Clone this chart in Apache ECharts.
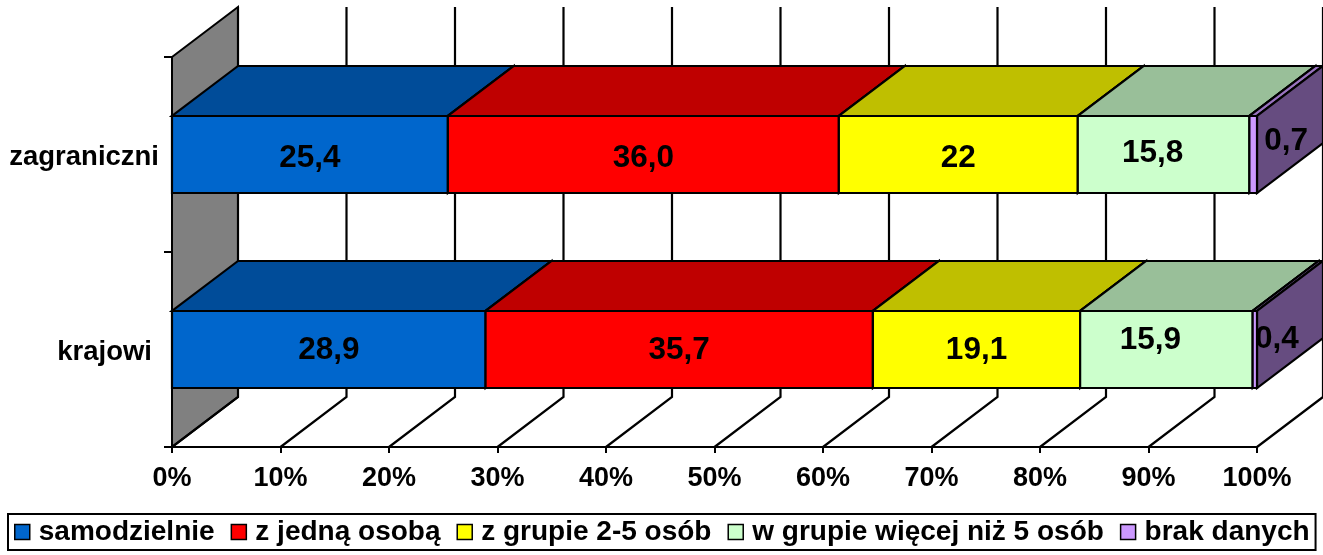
<!DOCTYPE html>
<html>
<head>
<meta charset="utf-8">
<title>samodzielnie / z jedną osobą / w grupie</title>
<script src="https://cdn.jsdelivr.net/npm/echarts@6/dist/echarts.min.js"></script>
<style>
html, body { margin: 0; padding: 0; background: #fff; }
#chart1 { width: 1323px; height: 555px; }
</style>
</head>
<body>
<div id="chart1"></div>
<script>
// dane (kategorie od dołu do góry)
const categories = ['krajowi', 'zagraniczni'];
const seriesNames = ['samodzielnie', 'z jedną osobą', 'z grupie 2-5 osób', 'w grupie więcej niż 5 osób', 'brak danych'];
const samodzielnie = [28.9, 25.4];
const zJednaOsoba = [35.7, 36.0];
const zGrupie25 = [19.1, 22];
const wGrupieWiecej = [15.9, 15.8];
const brakDanych = [0.4, 0.7];
const labelTexts = [['28,9', '25,4'], ['35,7', '36,0'], ['19,1', '22'], ['15,9', '15,8'], ['0,4', '0,7']];
const xTicks = [0, 10, 20, 30, 40, 50, 60, 70, 80, 90, 100];

// wygląd
const FONT = '"Liberation Sans", Arial, sans-serif';
const frontColors = ['#0066CC', '#FF0000', '#FFFF00', '#CCFFCC', '#CC99FF'];
const topColors = ['#004C99', '#BF0000', '#BFBF00', '#99BF99', '#9973BF'];
const sideColors = ['#003366', '#800000', '#808000', '#668066', '#664C80'];
const DX = 66;   // głębokość 3D w poziomie
const DY = -50;  // głębokość 3D w pionie
const BAR_RATIO = 0.395;
// przesunięcia etykiet [seria][kategoria]
const labelShift = [
  [[0, 1], [0, 4]],
  [[0, 1], [0, 4]],
  [[0, 1], [0, 4]],
  [[-16, -9], [-11, -1]],
  [[22, -10], [33, -13]]
];

const seriesValues = [samodzielnie, zJednaOsoba, zGrupie25, wGrupieWiecej, brakDanych];
const totals = categories.map((c, i) => seriesValues.reduce((sum, arr) => sum + arr[i], 0));

// ściana boczna, podłoga i linie siatki
function renderWalls (params, api) {
  const cs = params.coordSys;
  const x = cs.x, y = cs.y, h = cs.height;
  const children = [{
    type: 'polygon',
    shape: { points: [[x, y], [x + DX, y + DY], [x + DX, y + h + DY], [x, y + h]] },
    style: { fill: '#808080', stroke: '#000', lineWidth: 2 }
  }];
  xTicks.forEach(v => {
    const px = api.coord([v, 0])[0];
    children.push({
      type: 'polyline',
      shape: { points: [[px, y + h], [px + DX, y + h + DY], [px + DX, y + DY]] },
      style: { fill: null, stroke: '#000', lineWidth: 2.2 }
    });
  });
  return { type: 'group', children };
}

function renderBar (params, api) {
  const cat = api.value(0);
  const s = api.value(3);
  const p0 = api.coord([api.value(1), cat]);
  const p1 = api.coord([api.value(2), cat]);
  const bh = api.size([0, 1])[1] * BAR_RATIO;
  const x0 = p0[0], x1 = p1[0];
  const yT = p0[1] - bh / 2, yB = p0[1] + bh / 2;
  const edge = { stroke: '#000', lineWidth: 2.2, lineJoin: 'miter' };
  const shift = labelShift[s][cat];
  return {
    type: 'group',
    children: [
      { type: 'polygon', shape: { points: [[x0, yT], [x1, yT], [x1 + DX, yT + DY], [x0 + DX, yT + DY]] },
        style: Object.assign({ fill: topColors[s] }, edge) },
      { type: 'polygon', shape: { points: [[x1, yT], [x1 + DX, yT + DY], [x1 + DX, yB + DY], [x1, yB]] },
        style: Object.assign({ fill: sideColors[s] }, edge) },
      { type: 'rect', shape: { x: x0, y: yT, width: x1 - x0, height: yB - yT },
        style: Object.assign({ fill: frontColors[s] }, edge) },
      { type: 'text', z2: 100,
        style: {
          text: labelTexts[s][cat],
          x: (x0 + x1) / 2 + shift[0], y: p0[1] + shift[1],
          align: 'center', verticalAlign: 'middle',
          fontFamily: FONT, fontWeight: 'bold', fontSize: 31.5, fill: '#000'
        } }
    ]
  };
}

const starts = categories.map(() => 0);
const barSeries = seriesNames.map((name, s) => {
  const data = categories.map((c, i) => {
    const share = seriesValues[s][i] / totals[i] * 100;
    const item = [i, starts[i], starts[i] + share, s];
    starts[i] += share;
    return item;
  });
  return {
    type: 'custom',
    name: name,
    renderItem: renderBar,
    encode: { x: [1, 2], y: 0 },
    itemStyle: { color: frontColors[s] },
    data: data,
    z: 3
  };
});

const option = {
  animation: false,
  backgroundColor: '#fff',
  grid: { left: 172, right: 66, top: 57, bottom: 108 },
  legend: {
    data: seriesNames,
    left: 8,
    top: 514,
    padding: [4, 6, 4, 6],
    borderColor: '#000',
    borderWidth: 2,
    itemWidth: 15,
    itemHeight: 15,
    itemGap: 16,
    icon: 'rect',
    itemStyle: { borderColor: '#000', borderWidth: 1.5 },
    textStyle: { fontFamily: FONT, fontWeight: 'bold', fontSize: 28, color: '#000', padding: [0, 0, 0, 4] }
  },
  xAxis: {
    type: 'value',
    min: 0,
    max: 100,
    interval: 10,
    axisLine: { show: true, lineStyle: { color: '#000', width: 2 } },
    axisTick: { show: true, length: 6, lineStyle: { color: '#000', width: 2 } },
    splitLine: { show: false },
    axisLabel: {
      formatter: '{value}%',
      margin: 18,
      fontFamily: FONT, fontWeight: 'bold', fontSize: 27, color: '#000'
    }
  },
  yAxis: {
    type: 'category',
    data: categories,
    axisLine: { show: true, lineStyle: { color: '#000', width: 2 } },
    axisTick: { show: true, length: 8, lineStyle: { color: '#000', width: 2 } },
    splitLine: { show: false },
    axisLabel: {
      margin: 13,
      formatter: v => v === 'krajowi' ? '{k|' + v + '}' : '{z|' + v + '}',
      rich: {
        k: { padding: [6, 7, 0, 0], fontFamily: FONT, fontWeight: 'bold', fontSize: 27.5, color: '#000' },
        z: { padding: [6, 0, 0, 0], fontFamily: FONT, fontWeight: 'bold', fontSize: 27.5, color: '#000' }
      },
      fontFamily: FONT, fontWeight: 'bold', fontSize: 27.5, color: '#000'
    }
  },
  series: [{
    type: 'custom',
    name: 'walls',
    silent: true,
    renderItem: renderWalls,
    encode: { x: 0, y: 1 },
    data: [[0, 0]],
    z: 1
  }].concat(barSeries)
};

const mycharts = echarts.init(document.getElementById('chart1'));
mycharts.setOption(option);
</script>
</body>
</html>
